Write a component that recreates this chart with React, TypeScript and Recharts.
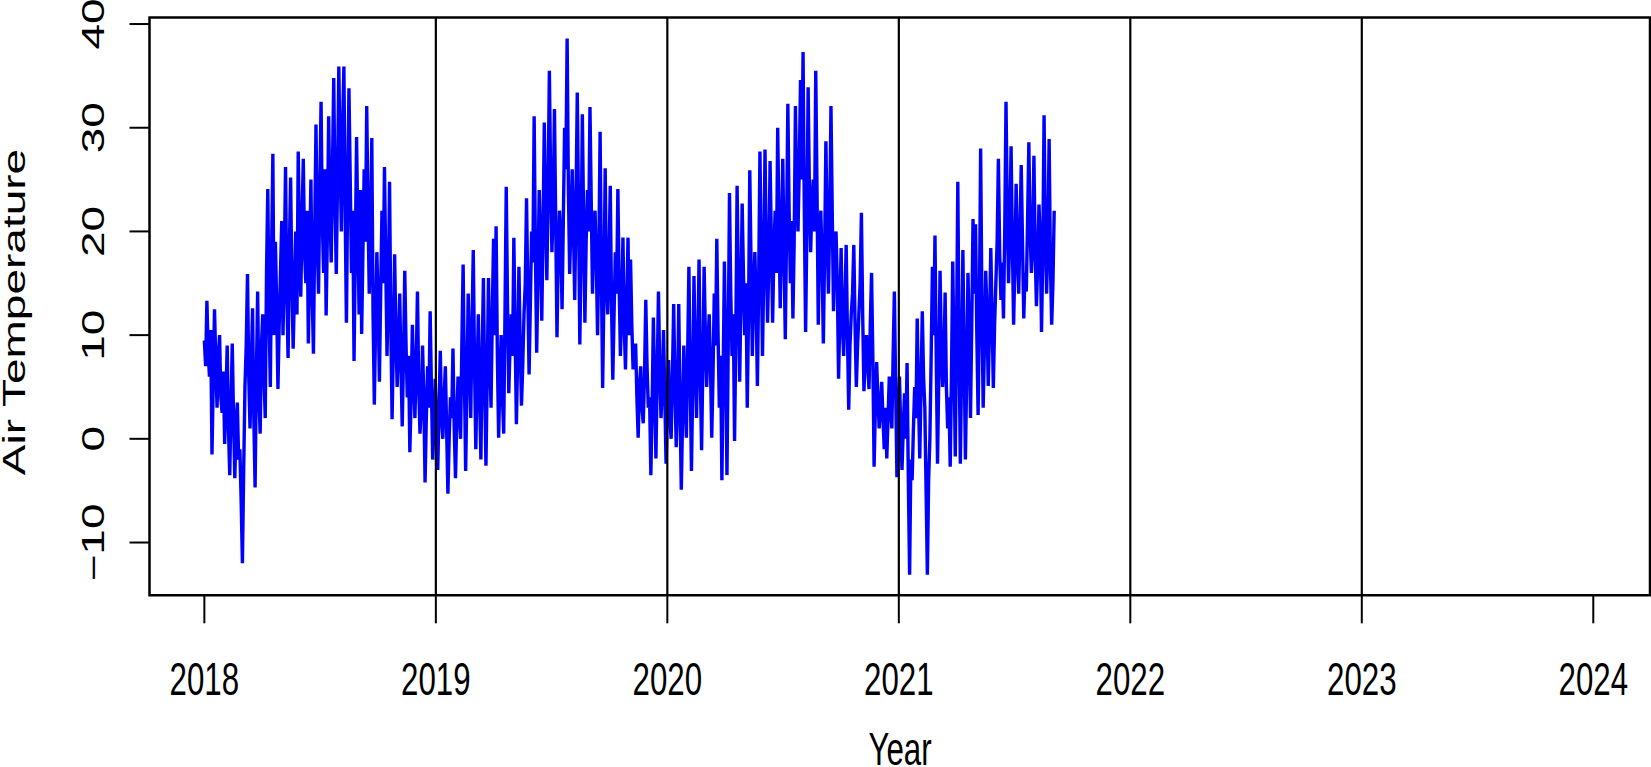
import React from "react";
import { LineChart, Line, XAxis, YAxis, ReferenceLine, ReferenceArea } from "recharts";

const START_YEAR = 2018;
const STEP_DAYS = 2;
const temps: number[] = [
  // 2018
  9.5, 7.0, 13.3, 8.5, 6.0, 10.5, -1.5, 5.5, 12.5, 7.5, 3.0, 8.0, 10.0, 4.0, 2.5, 6.5, -0.5, 4.0, 9.0, 1.0,
  -3.5, 3.0, 9.2, 2.0, -3.8, 1.5, 3.5, -2.0, -1.0, -6.0, -12.0, -3.0, 5.0, 9.0, 15.9, 6.0, 1.0, 7.0, 12.6, 2.0,
  -4.7, 6.0, 14.2, 4.0, 0.5, 9.0, 12.0, 6.0, 2.0, 16.0, 24.1, 12.0, 5.0, 18.0, 27.5, 10.0, 19.0, 13.0, 4.8, 11.0,
  16.0, 21.0, 10.0, 17.0, 26.2, 14.0, 7.8, 18.0, 25.2, 15.0, 8.7, 14.0, 20.0, 12.0, 27.7, 19.0, 13.7, 21.0, 27.0, 18.0,
  15.0, 22.0, 9.2, 17.0, 25.0, 14.0, 8.2, 20.0, 30.3, 19.0, 14.0, 24.0, 32.5, 21.0, 16.0, 26.0, 11.9, 20.0, 31.1, 22.0,
  17.0, 26.0, 34.8, 23.0, 15.9, 25.0, 35.9, 27.0, 20.0, 30.0, 35.9, 22.0, 11.2, 24.0, 33.8, 25.0, 16.0, 22.0, 7.5, 18.0,
  29.1, 20.0, 12.0, 24.0, 10.1, 18.0, 26.0, 19.0, 32.1, 22.0, 14.0, 20.0, 29.0, 12.0, 3.3, 11.0, 18.0, 13.0, 5.5, 14.0,
  22.0, 15.0, 26.2, 17.0, 8.0, 14.0, 24.8, 11.0, 1.9, 9.0, 17.8, 10.0, 5.0, 9.0, 14.0, 7.0, 1.2, 8.0, 16.2, 9.0,
  4.0, 8.0, -1.3, 4.0, 11.0, 6.0, 2.0, 7.0, 14.2, 5.0, 0.5, 3.0, 9.0, 4.0, -4.2, 2.0, 7.0, 3.0, 12.3, 5.0,
  -2.0, 1.0, 5.8, 1.0,
  // 2019
  -3.0, 3.0, 8.5, 2.0, 0.0, 4.0, 7.0, 1.0, -5.3, 0.0, 4.0, 2.0, 8.7, 1.0, -3.8, 2.0,
  6.0, 2.5, 0.0, 9.0, 16.8, 6.0, -3.1, 5.0, 14.0, 8.0, 2.0, 11.0, 18.2, 7.0, -1.0, 6.0, 12.0, 4.0, -2.0, 8.0,
  15.5, 5.0, -2.6, 6.0, 15.5, 8.0, 3.0, 12.0, 19.3, 10.0, 20.5, 8.0, 0.1, 6.0, 10.0, 4.0, 0.5, 12.0, 24.3, 13.0,
  4.4, 9.0, 12.0, 8.0, 19.4, 10.0, 1.4, 8.0, 16.6, 9.0, 3.2, 7.0, 12.0, 15.0, 23.2, 14.0, 6.2, 13.0, 20.0, 17.0,
  31.1, 18.0, 8.3, 16.0, 24.0, 19.0, 11.4, 20.0, 30.5, 22.0, 15.3, 24.0, 35.5, 25.0, 18.0, 22.0, 31.8, 21.0, 9.8, 18.0,
  22.0, 19.0, 12.5, 21.0, 30.0, 26.0, 38.6, 24.0, 15.9, 21.0, 26.0, 20.0, 13.4, 23.0, 33.4, 22.0, 9.1, 18.0, 31.3, 21.0,
  11.2, 19.0, 24.0, 20.0, 32.0, 23.0, 14.0, 20.0, 22.0, 17.0, 10.0, 18.0, 29.6, 16.0, 4.9, 14.0, 26.1, 15.0, 12.0, 17.0,
  24.4, 13.0, 5.7, 12.0, 18.0, 14.0, 24.1, 15.0, 8.0, 12.0, 19.4, 11.0, 6.7, 13.0, 19.4, 10.0, 17.3, 11.0, 6.7, 8.0,
  9.2, 4.0, 0.1, 5.0, 7.0, 3.0, 1.5, 6.0, 13.4, 7.0, 3.0, 4.0, -3.5, 3.0, 11.7, 5.0, -1.9, 6.0, 14.2, 7.0,
  2.0, 5.0, 10.5, 4.0,
  // 2020
  -2.4, 3.0, 7.6, 2.0, 0.0, 6.0, 13.0, 5.0, -0.8, 4.0, 13.0, 3.0, -4.9, 2.0, 9.0, 4.0,
  0.1, 8.0, 16.6, 6.0, -3.1, 5.0, 15.7, 8.0, 2.0, 9.0, 17.3, 6.0, -1.1, 7.0, 16.6, 10.0, 5.0, 9.0, 12.0, 7.0,
  0.1, 6.0, 14.0, 9.0, 19.3, 10.0, 3.0, 8.0, -4.0, 6.0, 17.1, 8.0, -3.5, 9.0, 23.7, 14.0, 8.0, 12.0, -0.2, 10.0,
  24.4, 15.0, 5.5, 13.0, 22.7, 16.0, 10.0, 15.0, 3.0, 12.0, 25.9, 17.0, 8.0, 14.0, 18.0, 13.0, 5.1, 15.0, 27.7, 18.0,
  8.0, 16.0, 27.9, 18.0, 11.2, 17.0, 26.8, 19.0, 11.2, 18.0, 22.0, 16.0, 30.0, 21.0, 12.6, 19.0, 27.0, 18.0, 9.6, 20.0,
  32.3, 22.0, 15.0, 21.0, 11.6, 19.0, 32.1, 24.0, 20.0, 26.0, 34.6, 25.0, 37.3, 22.0, 10.3, 20.0, 33.9, 24.0, 18.0, 23.0,
  25.0, 20.0, 35.5, 24.0, 11.0, 19.0, 22.0, 17.0, 9.2, 18.0, 28.7, 20.0, 14.0, 21.0, 32.1, 22.0, 12.3, 18.0, 20.0, 15.0,
  5.8, 12.0, 18.4, 11.0, 8.0, 13.0, 18.7, 10.0, 2.8, 9.0, 12.0, 14.0, 18.7, 11.0, 5.0, 9.0, 12.0, 15.0, 21.8, 12.0,
  4.6, 8.0, 10.0, 7.0, 4.8, 11.0, 16.0, 8.0, -2.7, 3.0, 7.4, 4.0, 1.0, 3.0, 5.5, 2.0, -1.0, 3.0, -1.9, 2.0,
  6.0, 3.0, 1.0, 8.0, 14.2, 5.0, -3.7, 2.0, 6.0, 1.0,
  // 2021
  -3.0, 1.0, 4.4, 0.0, 7.3, -4.0, -13.1, -2.0, -4.0, 1.0,
  5.0, 2.0, 11.6, 4.0, -1.9, 5.0, 12.3, 6.0, 3.0, -5.0, -13.1, -4.0, 0.1, 8.0, 16.6, 10.0, 19.6, 8.0, -2.4, 6.0,
  16.2, 9.0, 5.0, 7.0, 14.1, 5.0, 1.0, 4.0, -2.7, 6.0, 17.1, 8.0, -1.7, 10.0, 24.8, 9.0, -2.4, 7.0, 18.2, 8.0,
  -2.0, 6.0, 16.0, 10.0, 2.0, 11.0, 21.2, 14.0, 20.7, 10.0, 2.3, 12.0, 28.0, 13.0, 3.0, 9.0, 16.2, 12.0, 5.1, 11.0,
  18.4, 12.0, 4.9, 11.0, 15.0, 19.0, 27.0, 18.0, 13.4, 17.0, 11.6, 20.0, 32.5, 22.0, 15.0, 20.0, 28.2, 19.0, 11.0, 17.0,
  24.6, 18.0, 14.0, 20.0, 26.4, 19.0, 11.6, 16.0, 14.2, 21.0, 28.6, 20.0, 16.0, 19.0, 27.3, 18.0, 12.8, 17.0, 22.6, 19.0,
  10.3, 18.0, 31.2, 20.0, 14.0, 19.0, 28.9, 17.0, 11.0, 15.0, 22.0,
];

const yearTicks = [2018, 2019, 2020, 2021, 2022, 2023, 2024];
const yearLines = [2019, 2020, 2021, 2022, 2023];
const tempTicks = [-10, 0, 10, 20, 30, 40];
const X_DOMAIN: [number, number] = [2017.763, 2024.245];
const Y_DOMAIN: [number, number] = [-15.09, 40.63];

const data = temps.map((v, i) => ({ t: START_YEAR + (i * STEP_DAYS) / 365, v }));

const FONT = "'Liberation Sans', Arial, Helvetica, sans-serif";
const FS = 46;
const SQ = 0.68;

const XTick = (props: any) => {
  const { x, y, payload } = props;
  return (
    <text
      transform={`translate(${x},${y + 72}) scale(${SQ},1)`}
      textAnchor="middle"
      fontSize={FS}
      fontFamily={FONT}
      fill="#000"
    >
      {payload.value}
    </text>
  );
};

const YTick = (props: any) => {
  const { x, y, payload } = props;
  const label = payload.value < 0 ? "\u2212" + Math.abs(payload.value) : String(payload.value);
  return (
    <text
      transform={`translate(${x - 26},${y}) scale(${SQ},1) rotate(-90)`}
      textAnchor="middle"
      fontSize={FS}
      fontFamily={FONT}
      fill="#000"
    >
      {label}
    </text>
  );
};

export default function App() {
  const W = 1651;
  const H = 767;
  return (
    <div style={{ position: "absolute", left: 0, top: 0, width: W, height: H, background: "#fff" }}>
      <LineChart
        width={W}
        height={H}
        data={data}
        margin={{ top: 17.5, right: 1, bottom: 0, left: 0 }}
      >
        <XAxis
          dataKey="t"
          type="number"
          domain={X_DOMAIN}
          ticks={yearTicks}
          allowDataOverflow
          height={171.7}
          axisLine={false}
          tickSize={28}
          tickMargin={0}
          tickLine={{ stroke: "#000", strokeWidth: 2 }}
          tick={<XTick />}
          interval={0}
        />
        <YAxis
          type="number"
          domain={Y_DOMAIN}
          ticks={tempTicks}
          allowDataOverflow
          width={149.5}
          axisLine={false}
          tickSize={20}
          tickMargin={0}
          tickLine={{ stroke: "#000", strokeWidth: 2 }}
          tick={<YTick />}
          interval={0}
        />
        <Line
          dataKey="v"
          type="linear"
          stroke="#0000ff"
          strokeWidth={3.4}
          dot={false}
          isAnimationActive={false}
        />
        {yearLines.map((yr) => (
          <ReferenceLine key={yr} x={yr} stroke="#000" strokeWidth={2.2} ifOverflow="visible" />
        ))}
        <ReferenceArea
          x1={X_DOMAIN[0]}
          x2={X_DOMAIN[1]}
          y1={Y_DOMAIN[0]}
          y2={Y_DOMAIN[1]}
          fill="none"
          fillOpacity={0}
          stroke="#000"
          strokeWidth={2.5}
          ifOverflow="visible"
        />
      </LineChart>
      <svg
        width={W}
        height={H}
        style={{ position: "absolute", left: 0, top: 0, pointerEvents: "none" }}
      >
        <text
          transform={`translate(25,312) scale(${SQ},1) rotate(-90)`}
          textAnchor="middle"
          fontSize={FS}
          fontFamily={FONT}
          fill="#000"
        >
          Air Temperature
        </text>
        <text
          transform={`translate(900,765) scale(${SQ},1)`}
          textAnchor="middle"
          fontSize={FS}
          fontFamily={FONT}
          fill="#000"
        >
          Year
        </text>
      </svg>
    </div>
  );
}
